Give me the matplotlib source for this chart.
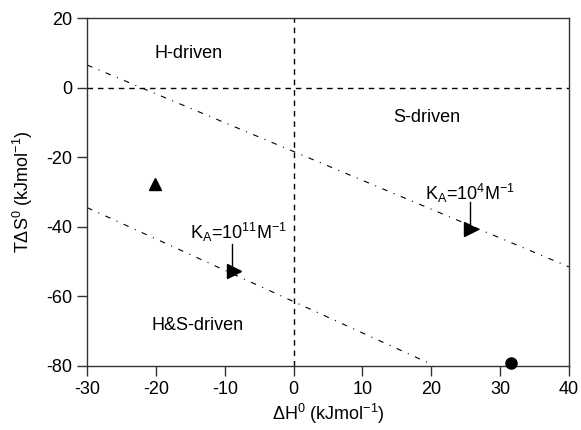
import matplotlib
matplotlib.use("Agg")
import matplotlib.pyplot as plt

plt.rcParams['font.family'] = ['Liberation Sans', 'DejaVu Sans']
plt.rcParams['mathtext.fontset'] = 'custom'
plt.rcParams['mathtext.rm'] = 'Liberation Sans'
plt.rcParams['mathtext.it'] = 'Liberation Sans'
plt.rcParams['mathtext.bf'] = 'Liberation Sans:bold'
plt.rcParams['axes.unicode_minus'] = False

# iso-K lines (dH, TdS)
line_1e4_x = [-30, 40]
line_1e4_y = [6.5, -51.5]
line_1e11_x = [-30, 20]
line_1e11_y = [-34.5, -79.5]

# data points
tri_x, tri_y = [-20.2], [-27.7]
circ_x, circ_y = [31.6], [-79.3]

# arrow markers: stem top, arrow head
arrow_1e4 = {'x': 25.6, 'y_top': -32.9, 'y_head': -40.6}
arrow_1e11 = {'x': -8.9, 'y_top': -44.9, 'y_head': -52.7}

region_labels = ["H-driven", "S-driven", "H&S-driven"]
region_x = [-15.2, 19.4, -14.0]
region_y = [9.9, -8.7, -68.5]

xticks = [-30, -20, -10, 0, 10, 20, 30, 40]
yticks = [-80, -60, -40, -20, 0, 20]

fig = plt.figure(figsize=(5.81, 4.30), dpi=100)
ax = fig.add_axes([0.150, 0.149, 0.829, 0.809])

ax.axvline(0, color='black', lw=1, ls=(0, (4, 3.5)))
ax.axhline(0, color='black', lw=1, ls=(0, (4, 3.5)))

dashdot = (0, (5, 6, 1, 6))
ax.plot(line_1e4_x, line_1e4_y, color='black', lw=0.8, ls=dashdot)
ax.plot(line_1e11_x, line_1e11_y, color='black', lw=0.8, ls=dashdot)

ax.plot(tri_x, tri_y, marker='^', color='black', ms=8, ls='none')
ax.plot(circ_x, circ_y, marker='o', color='black', ms=8, ls='none', clip_on=False, zorder=5)

for a in (arrow_1e4, arrow_1e11):
    ax.plot([a['x'], a['x']], [a['y_top'], a['y_head']], color='black', lw=1)
    ax.plot([a['x'] + 0.2], [a['y_head']], marker='>', color='black', ms=10, ls='none')

ax.text(19.1, -30.3, r'K$_A$=10$^{4}$M$^{-1}$', fontsize=13, va='center', ha='left')
ax.text(-15.0, -41.5, r'K$_A$=10$^{11}$M$^{-1}$', fontsize=13, va='center', ha='left')

for lab, x, y in zip(region_labels, region_x, region_y):
    ax.text(x, y, lab, fontsize=13, ha='center', va='center')

ax.set_xlim(-30, 40)
ax.set_ylim(-80, 20)
ax.set_xticks(xticks)
ax.set_yticks(yticks)
ax.tick_params(direction='out', length=7, width=1, labelsize=13, color='#333333')
for s in ax.spines.values():
    s.set_color('#333333')
    s.set_linewidth(1)

ax.set_xlabel(r'$\Delta$H$^0$ (kJmol$^{-1}$)', fontsize=13, labelpad=3)
ax.set_ylabel(r'T$\Delta$S$^0$ (kJmol$^{-1}$)', fontsize=13, labelpad=8)

fig.savefig('out.png', dpi=100)
